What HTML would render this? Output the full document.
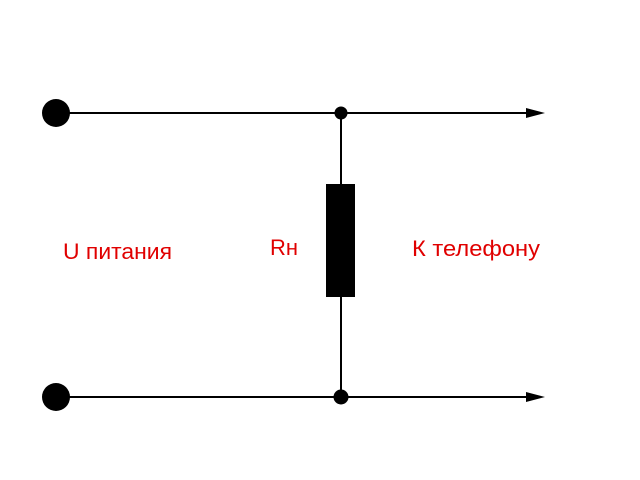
<!DOCTYPE html>
<html><head><meta charset="utf-8"><style>html,body{margin:0;padding:0;background:#fff;width:640px;height:480px;overflow:hidden}</style></head>
<body>
<svg width="640" height="480" xmlns="http://www.w3.org/2000/svg">
<rect width="640" height="480" fill="#fff"/>
<line x1="56" y1="113" x2="530" y2="113" stroke="#000" stroke-width="2"/>
<polygon points="526,108 545,113 526,118" fill="#000"/>
<line x1="56" y1="397" x2="530" y2="397" stroke="#000" stroke-width="2"/>
<polygon points="526,392 545,397 526,402" fill="#000"/>
<circle cx="56" cy="113" r="14" fill="#000"/>
<circle cx="56" cy="397" r="14" fill="#000"/>
<line x1="341" y1="113" x2="341" y2="397" stroke="#000" stroke-width="2"/>
<circle cx="341" cy="113" r="6.5" fill="#000"/>
<circle cx="341" cy="397" r="7.5" fill="#000"/>
<rect x="326" y="184" width="29" height="113" fill="#000"/>
<g font-family="Liberation Sans, sans-serif" font-size="22" fill="#e00000">
<text x="63" y="259" textLength="109" lengthAdjust="spacingAndGlyphs">U питания</text>
<text x="270" y="255" textLength="28" lengthAdjust="spacingAndGlyphs">Rн</text>
<text x="412" y="256" textLength="128" lengthAdjust="spacingAndGlyphs">К телефону</text>
</g>
</svg>
</body></html>
